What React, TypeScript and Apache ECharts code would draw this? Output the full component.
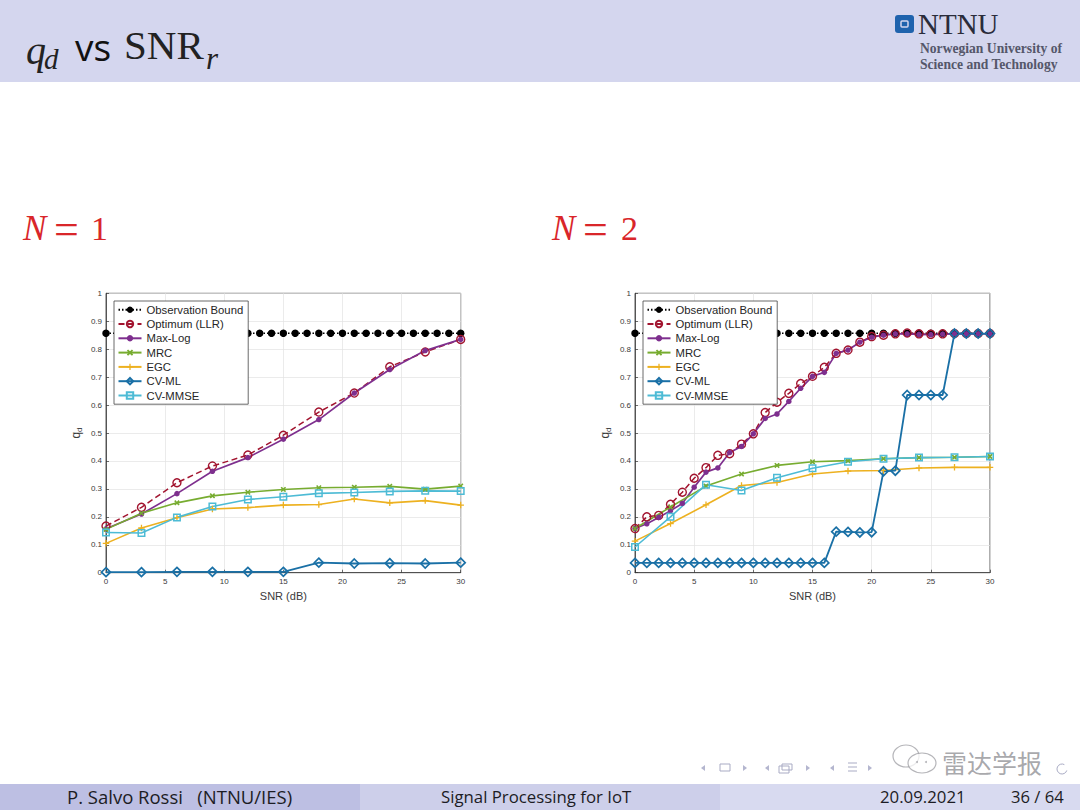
import React, { useEffect, useRef } from "react";
import * as echarts from "echarts";

const names = ["Observation Bound", "Optimum (LLR)", "Max-Log", "MRC", "EGC", "CV-ML", "CV-MMSE"];
const xCoarse = [0, 3, 6, 9, 12, 15, 18, 21, 24, 27, 30];
const xFine = [0, 1, 2, 3, 4, 5, 6, 7, 8, 9, 10, 11, 12, 13, 14, 15, 16, 17, 18, 19, 20, 21, 22, 23, 24, 25, 26, 27, 28, 29, 30];
const observationBound = [0.857, 0.857, 0.857, 0.857, 0.857, 0.857, 0.857, 0.857, 0.857, 0.857, 0.857, 0.857, 0.857, 0.857, 0.857, 0.857, 0.857, 0.857, 0.857, 0.857, 0.857, 0.857, 0.857, 0.857, 0.857, 0.857, 0.857, 0.857, 0.857, 0.857, 0.857];

const n1Optimum = [0.167, 0.234, 0.322, 0.382, 0.421, 0.492, 0.575, 0.643, 0.737, 0.79, 0.835];
const n1MaxLog = [0.157, 0.21, 0.283, 0.363, 0.412, 0.478, 0.548, 0.643, 0.727, 0.795, 0.835];
const n1Mrc = [0.155, 0.213, 0.25, 0.275, 0.288, 0.298, 0.304, 0.306, 0.309, 0.299, 0.31];
const n1Egc = [0.105, 0.16, 0.197, 0.228, 0.233, 0.242, 0.244, 0.264, 0.25, 0.258, 0.242];
const n1CvMl = [0.002, 0.002, 0.003, 0.003, 0.003, 0.003, 0.036, 0.033, 0.034, 0.033, 0.036];
const n1CvMmse = [0.144, 0.142, 0.198, 0.237, 0.262, 0.272, 0.284, 0.287, 0.291, 0.293, 0.292];

const n2Optimum = [0.158, 0.2, 0.205, 0.245, 0.288, 0.338, 0.376, 0.42, 0.426, 0.46, 0.497, 0.573, 0.61, 0.642, 0.677, 0.703, 0.735, 0.785, 0.797, 0.825, 0.845, 0.85, 0.855, 0.858, 0.855, 0.853, 0.855, 0.856, 0.856, 0.856, 0.856];
const n2MaxLog = [0.158, 0.175, 0.198, 0.222, 0.248, 0.306, 0.36, 0.375, 0.43, 0.452, 0.497, 0.552, 0.568, 0.613, 0.66, 0.703, 0.717, 0.785, 0.797, 0.825, 0.843, 0.85, 0.855, 0.855, 0.853, 0.852, 0.854, 0.855, 0.855, 0.855, 0.855];
const n2Mrc = [0.158, 0.235, 0.31, 0.353, 0.384, 0.397, 0.401, 0.408, 0.412, 0.413, 0.416];
const n2Egc = [0.113, 0.176, 0.243, 0.312, 0.323, 0.353, 0.364, 0.366, 0.375, 0.377, 0.377];
const n2CvMl = [0.035, 0.035, 0.035, 0.035, 0.035, 0.035, 0.035, 0.035, 0.035, 0.035, 0.035, 0.035, 0.035, 0.035, 0.035, 0.035, 0.035, 0.147, 0.146, 0.144, 0.145, 0.363, 0.365, 0.636, 0.636, 0.636, 0.636, 0.856, 0.856, 0.856, 0.856];
const n2CvMmse = [0.092, 0.2, 0.315, 0.294, 0.34, 0.374, 0.397, 0.408, 0.412, 0.413, 0.416];

const XMARK = "path://M2 0L5 3L8 0L10 2L7 5L10 8L8 10L5 7L2 10L0 8L3 5L0 2Z";
const PLUS = "path://M4 0H6V4H10V6H6V10H4V6H0V4H4Z";

const pairs = (xs: number[], ys: number[]) => xs.map((x, i) => [x, ys[i]]);

const line = (name: string, idx: number, xs: number[], ys: number[], color: string, symbol: string, symbolSize: number, width: number, opts: any = {}) => ({
  type: "line",
  name,
  xAxisIndex: idx,
  yAxisIndex: idx,
  data: pairs(xs, ys),
  symbol,
  symbolSize,
  showSymbol: true,
  showAllSymbol: true,
  clip: false,
  lineStyle: { color, width, type: opts.dash || "solid" },
  itemStyle: { color: opts.fill || color, borderColor: color, borderWidth: opts.border ?? 0 },
});

const panelSeries = (idx: number, d: any) => [
  line(names[0], idx, xFine, observationBound, "#000000", "circle", 7.5, 1.4, { dash: [1.5, 2] }),
  line(names[1], idx, d.xo, d.opt, "#a2142f", "circle", 8, 1.5, { dash: [6, 3.5], fill: "rgba(255,255,255,0)", border: 1.4 }),
  line(names[2], idx, d.xo, d.ml, "#7e2f8e", "circle", 5.5, 1.7),
  line(names[3], idx, xCoarse, d.mrc, "#77ac30", XMARK, 5.5, 1.6),
  line(names[4], idx, xCoarse, d.egc, "#edb120", PLUS, 6.5, 1.6),
  line(names[5], idx, d.xc ?? xCoarse, d.cv, "#1a70a6", "diamond", 9, 1.8, { fill: "rgba(255,255,255,0)", border: 1.7 }),
  line(names[6], idx, xCoarse, d.mm, "#4dbbd5", "rect", 6.5, 1.6, { fill: "rgba(255,255,255,0)", border: 1.5 }),
];

const T = (text: string, x: number, y: number, font: string, fill: string, extra: any = {}) => ({
  type: "text",
  silent: true,
  z: 10,
  style: { text, x, y, font, fill, verticalAlign: "middle", align: "left", ...extra },
});
const TRI = (x: number, y: number, dir: number) => ({
  type: "polygon",
  silent: true,
  z: 10,
  shape: { points: [[x - dir * 2, y - 3], [x + dir * 2, y], [x - dir * 2, y + 3]] },
  style: { fill: "#b4b6cf" },
});
const BOX = (x: number, y: number, w: number, h: number, stroke = "#a9abc4") => ({
  type: "rect",
  silent: true,
  z: 10,
  shape: { x, y, width: w, height: h },
  style: { fill: "none", stroke, lineWidth: 1 },
});
const LN = (x1: number, y1: number, x2: number, y2: number) => ({
  type: "line",
  silent: true,
  z: 10,
  shape: { x1, y1, x2, y2 },
  style: { stroke: "#a9abc4", lineWidth: 1 },
});

const serif = '"Liberation Serif"';
const sans = '"Open Sans"';
const mark = "rgba(150,150,155,0.7)";
const NB = "\u00a0";

const graphicElements: any[] = [
  { type: "rect", z: 0, silent: true, shape: { x: 0, y: 0, width: 1080, height: 82 }, style: { fill: "#d4d6ee" } },
  { type: "rect", z: 0, silent: true, shape: { x: 0, y: 784, width: 360, height: 26 }, style: { fill: "#bdbfe3" } },
  { type: "rect", z: 0, silent: true, shape: { x: 360, y: 784, width: 360, height: 26 }, style: { fill: "#cdcfea" } },
  { type: "rect", z: 0, silent: true, shape: { x: 720, y: 784, width: 360, height: 26 }, style: { fill: "#d8daf0" } },

  T("q", 26, 50, `italic 40px ${serif}`, "#222222"),
  T("d", 44, 59, `italic 29px ${serif}`, "#222222"),
  T("vs", 75, 46, `37px ${sans}`, "#111111"),
  T("SNR", 124, 45, `41px ${serif}`, "#222222"),
  T("r", 206, 58, `italic 31px ${serif}`, "#222222"),

  { type: "rect", silent: true, z: 10, shape: { x: 895, y: 15, width: 19, height: 18, r: 3 }, style: { fill: "#1f63ad" } },
  { type: "rect", silent: true, z: 11, shape: { x: 901, y: 21, width: 7, height: 6, r: 1 }, style: { fill: "none", stroke: "#d4d6ee", lineWidth: 1.5 } },
  T("NTNU", 918, 24, `29px ${serif}`, "#2a2c3a"),
  T("Norwegian University of", 920, 48, `bold 13.6px ${serif}`, "#55576a"),
  T("Science and Technology", 920, 64, `bold 13.6px ${serif}`, "#55576a"),

  T("N", 23, 228, `italic 35px ${serif}`, "#d9262a"),
  T("=", 54, 229, `44px ${serif}`, "#d9262a"),
  T("1", 91, 228, `34px ${serif}`, "#d9262a"),
  T("N", 552, 228, `italic 35px ${serif}`, "#d9262a"),
  T("=", 583, 229, `44px ${serif}`, "#d9262a"),
  T("2", 621, 228, `34px ${serif}`, "#d9262a"),

  TRI(703, 768, -1), BOX(720, 764, 10, 7), TRI(745, 768, 1),
  TRI(767, 768, -1), BOX(779, 766, 10, 7), BOX(782, 764, 10, 6), TRI(808, 768, 1),
  TRI(832, 768, -1), LN(848, 763, 857, 763), LN(848, 767, 857, 767), LN(848, 771, 857, 771), TRI(870, 768, 1),

  { type: "ellipse", silent: true, z: 12, shape: { cx: 906, cy: 756, rx: 13, ry: 11 }, style: { fill: "none", stroke: mark, lineWidth: 1.2 } },
  { type: "ellipse", silent: true, z: 12, shape: { cx: 922, cy: 763, rx: 14, ry: 10 }, style: { fill: "rgba(255,255,255,0.75)", stroke: mark, lineWidth: 1.2 } },
  { type: "circle", silent: true, z: 12, shape: { cx: 917, cy: 762, r: 1 }, style: { fill: mark } },
  { type: "circle", silent: true, z: 12, shape: { cx: 926, cy: 762, r: 1 }, style: { fill: mark } },
  { ...T("雷达学报", 942, 762, '25px "Noto Sans CJK SC"', "rgba(130,130,135,0.7)"), z: 12 },
  { type: "arc", silent: true, z: 12, shape: { cx: 1062, cy: 769, r: 5, startAngle: 0.3, endAngle: 5.2 }, style: { fill: "none", stroke: "#a9abc4", lineWidth: 1 } },

  T(`P. Salvo Rossi${NB}${NB}${NB}(NTNU/IES)`, 67, 796, `18.5px ${sans}`, "#1c1c24"),
  T("Signal Processing for IoT", 441, 796, `16.8px ${sans}`, "#1c1c24"),
  T("20.09.2021", 880, 796, `16.8px ${sans}`, "#1c1c24"),
  T("36 / 64", 1011, 796, `16.6px ${sans}`, "#1c1c24"),
];

const grids = [
  { left: 106, top: 293.3, width: 354.7, height: 279.4, show: true, borderColor: "#333333", borderWidth: 0.8, backgroundColor: "#ffffff" },
  { left: 635, top: 293.3, width: 355, height: 279.4, show: true, borderColor: "#333333", borderWidth: 0.8, backgroundColor: "#ffffff" },
];

const gridLine = { show: true, lineStyle: { color: "#e2e2e2", width: 0.7 } };
const axisText = { color: "#3a3a3a", fontSize: 8, fontFamily: '"Liberation Sans"' };

const xAxis = (gridIndex: number) => ({
  type: "value",
  gridIndex,
  min: 0,
  max: 30,
  interval: 5,
  name: "SNR (dB)",
  nameLocation: "middle",
  nameGap: 18,
  nameTextStyle: { color: "#3a3a3a", fontSize: 11, fontFamily: '"Liberation Sans"' },
  axisLine: { show: true, onZero: false, lineStyle: { color: "#333333", width: 0.8 } },
  axisTick: { show: true, inside: true, length: 3, lineStyle: { color: "#333333", width: 0.7 } },
  axisLabel: { ...axisText, margin: 5 },
  splitLine: gridLine,
});
const yAxis = (gridIndex: number) => ({
  type: "value",
  gridIndex,
  min: 0,
  max: 1,
  interval: 0.1,
  name: "{q|q}{d|d}",
  nameLocation: "middle",
  nameRotate: 90,
  nameGap: 23,
  nameTextStyle: {
    rich: {
      q: { color: "#3a3a3a", fontSize: 12, fontFamily: '"Liberation Sans"' },
      d: { color: "#3a3a3a", fontSize: 8, verticalAlign: "bottom", padding: [6, 0, 0, 0], fontFamily: '"Liberation Sans"' },
    },
  },
  axisLine: { show: true, lineStyle: { color: "#333333", width: 0.8 } },
  axisTick: { show: true, inside: true, length: 3, lineStyle: { color: "#333333", width: 0.7 } },
  axisLabel: { ...axisText, margin: 4 },
  splitLine: gridLine,
});
const legend = (left: number) => ({
  left,
  top: 301,
  orient: "vertical",
  data: names,
  selectedMode: false,
  itemWidth: 23,
  itemHeight: 8,
  itemGap: 3.3,
  padding: [3.2, 5, 3.2, 3.5],
  backgroundColor: "#ffffff",
  borderColor: "#444444",
  borderWidth: 0.8,
  borderRadius: 0,
  z: 8,
  textStyle: { color: "#262626", fontSize: 11.3, fontFamily: '"Liberation Sans"' },
});

export default function App() {
  const ref = useRef<HTMLDivElement>(null);
  useEffect(() => {
    document.body.style.margin = "0";
    const chart = echarts.init(ref.current!, undefined, { renderer: "svg" });
    chart.setOption({
      animation: false,
      backgroundColor: "#ffffff",
      grid: grids,
      xAxis: [xAxis(0), xAxis(1)],
      yAxis: [yAxis(0), yAxis(1)],
      legend: [legend(114), legend(643)],
      graphic: { elements: graphicElements },
      series: [
        ...panelSeries(0, { xo: xCoarse, opt: n1Optimum, ml: n1MaxLog, mrc: n1Mrc, egc: n1Egc, cv: n1CvMl, mm: n1CvMmse }),
        ...panelSeries(1, { xo: xFine, xc: xFine, opt: n2Optimum, ml: n2MaxLog, mrc: n2Mrc, egc: n2Egc, cv: n2CvMl, mm: n2CvMmse }),
      ],
    });
    return () => chart.dispose();
  }, []);
  return <div ref={ref} style={{ width: 1080, height: 810 }} />;
}
